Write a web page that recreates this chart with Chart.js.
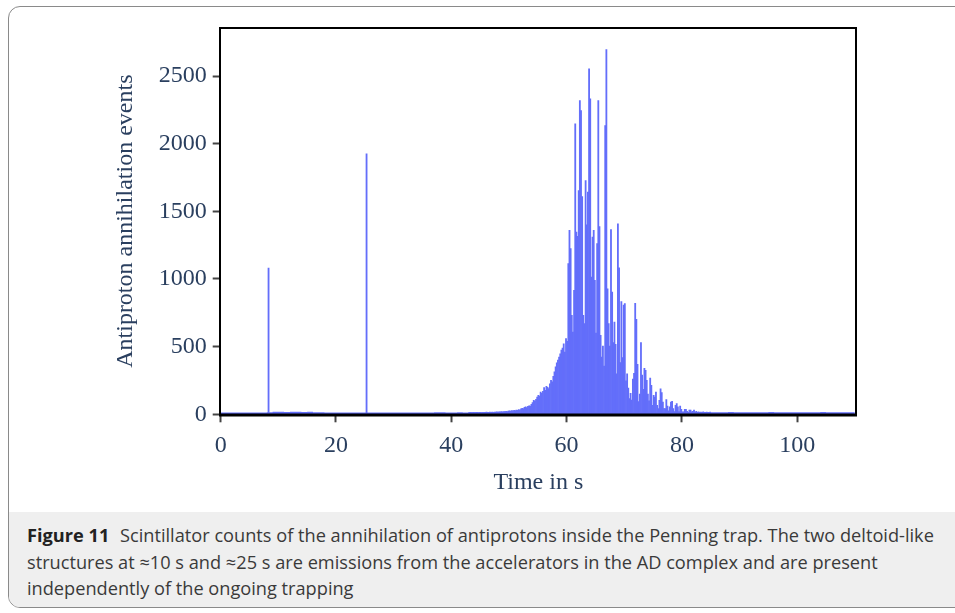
<!DOCTYPE html>
<html>
<head>
<meta charset="utf-8">
<script src="https://cdn.jsdelivr.net/npm/chart.js@4.4.1/dist/chart.umd.min.js"></script>
<style>
  body { margin: 0; width: 955px; height: 613px; overflow: hidden; background: #fff; position: relative; }
  #frame {
    position: absolute; left: 8px; top: 6px; width: 980px; height: 600px;
    border: 1px solid #8a8a8a; border-radius: 12px; overflow: hidden; background: #fff;
  }
  #caption {
    position: absolute; left: 0; right: 0; top: 505px; bottom: 0; background: #efefef;
  }
  #captionText {
    position: absolute; left: 18px; top: 10px;
    font-family: "Open Sans", Lato, sans-serif; font-size: 18.2px; line-height: 26.5px;
    color: #3a3a3a; white-space: nowrap;
  }
  #captionText b { color: #222; margin-right: 6px; }
  #chart { position: absolute; left: 0; top: 0; }
</style>
</head>
<body>
<div id="frame">
  <div id="caption">
    <div id="captionText">
      <b>Figure 11</b> Scintillator counts of the annihilation of antiprotons inside the Penning trap. The two deltoid-like<br>
      structures at ≈10 s and ≈25 s are emissions from the accelerators in the AD complex and are present<br>
      independently of the ongoing trapping
    </div>
  </div>
</div>
<canvas id="chart" width="955" height="505"></canvas>

<script>
// histogram bins of 0.2 s during the trapping burst (starting at 43 s)
const binWidth = 0.2;
const burstStart = 43;
const burstCounts = [
  12, 14, 12, 13, 15, 12, 14, 15, 13, 14,
  15, 13, 15, 14, 15, 16, 14, 15, 16, 15,
  16, 15, 17, 16, 18, 16, 19, 18, 20, 19,
  21, 20, 22, 21, 23, 25, 24, 27, 26, 29,
  28, 31, 30, 34, 32, 40, 45, 43, 52, 55,
  50, 58, 62, 60, 74, 86, 103, 98, 110, 128,
  140, 135, 165, 155, 170, 197, 177, 207, 200, 190,
  226, 251, 240, 281, 313, 350, 380, 400, 423, 447,
  475, 490, 520, 460, 560, 540, 1113, 1359, 1224, 731,
  608, 916, 2147, 1347, 1316, 1654, 2319, 2245, 1610, 731,
  670, 1728, 1400, 1642, 2553, 2331, 1014, 1310, 1359, 990,
  600, 1261, 2319, 1388, 583, 423, 505, 357, 2134, 2696,
  928, 670, 505, 1365, 903, 530, 682, 518, 300, 1408,
  1083, 382, 833, 420, 808, 818, 247, 300, 193, 116,
  155, 106, 260, 302, 821, 701, 370, 94, 150, 530,
  290, 185, 340, 325, 251, 150, 100, 268, 214, 66,
  140, 128, 165, 66, 42, 103, 189, 160, 91, 42,
  42, 108, 60, 25, 55, 91, 96, 42, 20, 66,
  79, 55, 20, 60, 37, 18, 18, 37, 37, 22,
  15, 32, 32, 18, 22, 32, 17, 22, 15, 18,
  15, 16, 14, 18, 15, 14, 16, 14, 15, 16
];

// the two accelerator spikes (bin start in s, counts)
const spikeTimes = [8.2, 25.2];
const spikeCounts = [1080, 1925];

// quiet background, per 0.2 s bin, read once per second (0 ... 110 s)
const quietCounts = [
  13, 14, 13, 14, 13, 14, 13, 14, 15, 18,
  18, 17, 18, 19, 17, 18, 16, 15, 14, 14,
  13, 14, 14, 13, 14, 14, 13, 14, 13, 14,
  14, 13, 14, 14, 13, 14, 14, 15, 15, 14,
  14, 15, 14, 15, 14, 14, 14, 14, 14, 14,
  14, 14, 14, 14, 14, 14, 14, 14, 14, 14,
  14, 14, 14, 14, 14, 14, 14, 14, 14, 14,
  14, 14, 14, 14, 14, 14, 14, 14, 14, 14,
  15, 15, 16, 15, 17, 15, 16, 15, 17, 15,
  16, 15, 15, 16, 15, 17, 15, 15, 16, 15,
  15, 16, 15, 15, 17, 15, 15, 16, 15, 15,
  15
];

const xTicks = [0, 20, 40, 60, 80, 100];
const yTicks = [0, 500, 1000, 1500, 2000, 2500];

const barPoints = [];
spikeTimes.forEach((t, i) => barPoints.push({ x: t + binWidth / 2, y: spikeCounts[i] }));
burstCounts.forEach((c, i) => barPoints.push({ x: burstStart + i * binWidth + binWidth / 2, y: c }));
const quietPoints = quietCounts.map((c, i) => ({ x: i, y: c }));

const blue = "#636efa";
const ink = "#2a3f5f";
Chart.defaults.font.family = '"Liberation Serif", "Times New Roman", serif';
Chart.defaults.color = ink;

// black box round the plot area
const frame = {
  id: "frame",
  afterDatasetsDraw(chart) {
    const { ctx, chartArea: a } = chart;
    ctx.save();
    ctx.strokeStyle = "#000";
    ctx.lineWidth = 2;
    ctx.beginPath();
    ctx.moveTo(a.left - 0.7, a.bottom);
    ctx.lineTo(a.left - 0.7, a.top);
    ctx.lineTo(a.right, a.top);
    ctx.lineTo(a.right, a.bottom);
    ctx.stroke();
    ctx.lineWidth = 3;
    ctx.beginPath();
    ctx.moveTo(a.left - 1.7, a.bottom + 0.8);
    ctx.lineTo(a.right + 1, a.bottom + 0.8);
    ctx.stroke();
    ctx.restore();
  }
};

new Chart(document.getElementById("chart"), {
  type: "bar",
  data: {
    datasets: [
      {
        type: "bar",
        data: barPoints,
        backgroundColor: blue,
        borderWidth: 0,
        categoryPercentage: 1,
        barPercentage: 1,
        order: 1
      },
      {
        type: "line",
        data: quietPoints,
        stepped: true,
        fill: "origin",
        backgroundColor: blue,
        borderWidth: 0,
        pointRadius: 0,
        order: 2
      }
    ]
  },
  options: {
    responsive: false,
    animation: false,
    devicePixelRatio: 1,
    layout: { padding: { left: 100, right: 99, top: 28, bottom: 0 } },
    plugins: { legend: { display: false }, tooltip: { enabled: false } },
    scales: {
      x: {
        type: "linear",
        min: 0,
        max: 110.2,
        offset: false,
        afterFit: s => { s.height = 90.7; },
        afterBuildTicks: s => { s.ticks = xTicks.map(v => ({ value: v })); },
        grid: { drawOnChartArea: false, offset: false, tickLength: 8, tickWidth: 2, tickColor: "#444" },
        border: { display: false },
        ticks: { padding: 9, font: { size: 24 }, color: ink, callback: v => String(v) },
        title: { display: true, text: "Time in s", font: { size: 24 }, color: ink, padding: { top: 0, bottom: 7.6 } }
      },
      y: {
        min: 0,
        max: 2855,
        afterFit: s => { s.width = 120.7; },
        afterBuildTicks: s => { s.ticks = yTicks.map(v => ({ value: v })); },
        grid: { drawOnChartArea: false, tickLength: 8, tickWidth: 2, tickColor: "#444" },
        border: { display: false },
        ticks: { padding: 6, font: { size: 24 }, color: ink, callback: v => String(v) },
        title: { display: true, text: "Antiproton annihilation events", font: { size: 24 }, color: ink, padding: { top: 11.6, bottom: 0 } }
      }
    }
  },
  plugins: [frame]
});
</script>
</body>
</html>
